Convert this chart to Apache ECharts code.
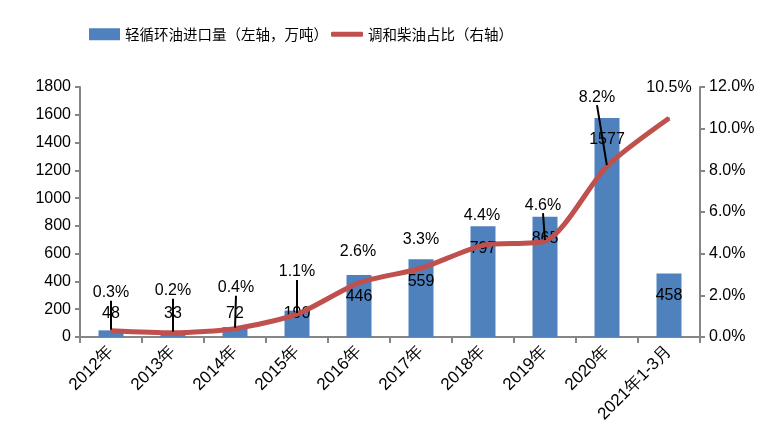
<!DOCTYPE html>
<html><head><meta charset="utf-8">
<script src="https://cdn.jsdelivr.net/npm/echarts@6/dist/echarts.min.js"></script>
<style>html,body{margin:0;padding:0;background:#fff}#c{width:781px;height:438px}</style>
</head><body><div id="c"></div>
<script>
// ---- data ----
const categories = ['2012年','2013年','2014年','2015年','2016年','2017年','2018年','2019年','2020年','2021年1-3月'];
const importVolume = [48, 33, 72, 190, 446, 559, 797, 865, 1577, 458];   // 万吨
const blendShare = [0.3, 0.2, 0.4, 1.1, 2.6, 3.3, 4.4, 4.6, 8.2, 10.5]; // %
const leftAxisTicks = { min: 0, max: 1800, interval: 200 };
const rightAxisTicks = { min: 0, max: 12, interval: 2 };
const barName = '轻循环油进口量（左轴，万吨）';
const lineName = '调和柴油占比（右轴）';

// ---- label layout (style only) ----
const shareLabelShift = [[0,-24],[0,-28],[1,-27],[0,-28],[-1,-17],[0,-15],[-1,-16],[-2,-22],[-10,-55],[0,-17]];
const shareLeader = [true,true,true,true,false,false,false,true,true,false];

const numFont = 'Liberation Sans';
const cjkFont = 'Noto Sans CJK SC';
const axisGray = '#868686';

const chart = echarts.init(document.getElementById('c'));
chart.setOption({
  animation: false,
  backgroundColor: '#fff',
  legend: [
    { data: [{ name: barName, icon: 'rect' }], left: 84, top: 22, itemWidth: 31, itemHeight: 12, itemGap: 5,
      textStyle: { fontFamily: cjkFont, fontSize: 14.5, color: '#000' } },
    { data: [{ name: lineName, icon: 'roundRect' }], left: 326, top: 22, itemWidth: 32, itemHeight: 5, itemGap: 5,
      textStyle: { fontFamily: cjkFont, fontSize: 14.5, color: '#000' } }
  ],
  grid: { left: 80, right: 81, top: 87, bottom: 101, containLabel: false },
  xAxis: {
    type: 'category', data: categories, boundaryGap: true,
    axisLine: { lineStyle: { color: axisGray, width: 2 } },
    axisTick: { show: true, length: 6, lineStyle: { color: axisGray, width: 2 } },
    axisLabel: { interval: 0, rotate: 45, margin: 12, color: '#000', fontSize: 17, fontFamily: numFont }
  },
  yAxis: [
    { type: 'value', min: leftAxisTicks.min, max: leftAxisTicks.max, interval: leftAxisTicks.interval,
      splitLine: { show: false },
      axisLine: { show: true, lineStyle: { color: axisGray, width: 2 } },
      axisTick: { show: true, length: 5, lineStyle: { color: axisGray, width: 2 } },
      axisLabel: { color: '#000', fontSize: 16, fontFamily: numFont, margin: 9,
        formatter: v => String(v) } },
    { type: 'value', min: rightAxisTicks.min, max: rightAxisTicks.max, interval: rightAxisTicks.interval,
      position: 'right', splitLine: { show: false },
      axisLine: { show: true, lineStyle: { color: axisGray, width: 2 } },
      axisTick: { show: true, length: 5, lineStyle: { color: axisGray, width: 2 } },
      axisLabel: { color: '#000', fontSize: 16, fontFamily: numFont, margin: 9,
        formatter: v => v.toFixed(1) + '%' } }
  ],
  series: [
    { name: barName, type: 'bar', yAxisIndex: 0, barWidth: 25,
      itemStyle: { color: '#4F81BD' },
      data: importVolume.map(v => ({ value: v,
        label: v >= 300 ? { position: 'insideTop', distance: 14 } : { position: 'insideBottom', distance: 15 } })),
      label: { show: true, color: '#000', fontSize: 16, fontFamily: numFont }
    },
    { name: lineName, type: 'line', yAxisIndex: 1, smooth: 0.25,
      symbol: 'circle', symbolSize: 2, showSymbol: true,
      lineStyle: { color: '#C0504D', width: 5 }, itemStyle: { color: '#C0504D' },
      data: blendShare.map((v, i) => ({ value: v, labelLine: { show: shareLeader[i] } })),
      label: { show: true, position: 'top', color: '#000', fontSize: 16, fontFamily: numFont,
        formatter: p => p.value.toFixed(1) + '%' },
      labelLine: { show: true, lineStyle: { color: '#000', width: 2 } },
      labelLayout: p => ({ dx: shareLabelShift[p.dataIndex][0], dy: shareLabelShift[p.dataIndex][1] }),
      z: 3
    }
  ]
});
</script></body></html>
